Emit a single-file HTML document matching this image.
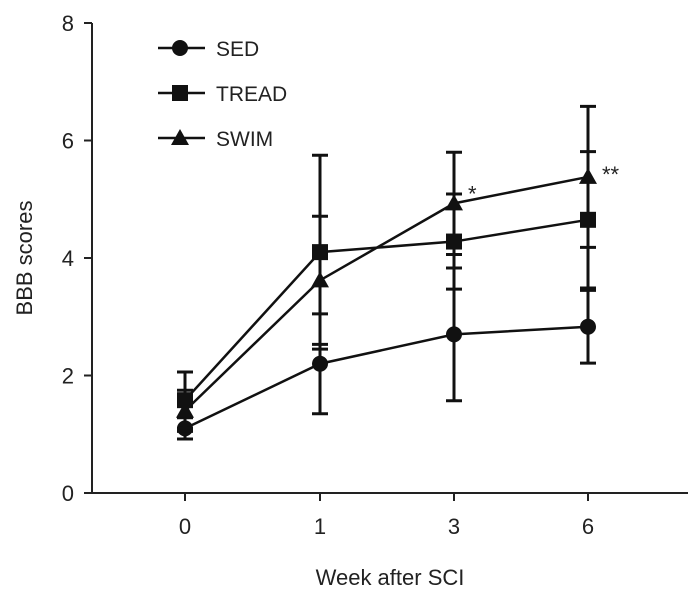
<!DOCTYPE html>
<html><head><meta charset="utf-8"><style>
body{margin:0;background:#fff}
svg text{font-family:"Liberation Sans Narrow","Liberation Sans",sans-serif;fill:#222}
</style></head><body>
<svg id="chart" width="699" height="600" viewBox="0 0 699 600" xmlns="http://www.w3.org/2000/svg"></svg>
<script>
const categories = ["0","1","3","6"];
const yTicks = [0,2,4,6,8];
const sedMean = [1.1, 2.2, 2.7, 2.83];
const sedErr = [0.18, 0.85, 1.13, 0.62];
const treadMean = [1.58, 4.1, 4.28, 4.65];
const treadErr = [0.48, 1.65, 0.81, 1.16];
const swimMean = [1.4, 3.62, 4.93, 5.38];
const swimErr = [0.35, 1.09, 0.87, 1.2];
const seriesNames = ["SED","TREAD","SWIM"];
const sigLabels = ["","","*","**"];

const NS="http://www.w3.org/2000/svg";
const svg=document.getElementById('chart');
const xPos=[185,320,454,588];
function x(i){return xPos[0]+(xPos[3]-xPos[0])*i/(categories.length-1)*0+xPos[i]-xPos[0];}
function y(v){return 493-v*58.75;}
function el(t,a,p){const e=document.createElementNS(NS,t);for(const k in a)e.setAttribute(k,a[k]);(p||svg).appendChild(e);return e;}

// axes
const ax=el('path',{d:'M92,23 V493 H688',fill:'none',stroke:'#222','stroke-width':2});


yTicks.forEach(t=>{
  const l=el('line',{x1:84,x2:92,y1:y(t),y2:y(t),stroke:'#222','stroke-width':2});
  
  
  const tx=el('text',{x:74,y:y(t)+8,'font-size':22,'text-anchor':'end'});tx.textContent=t;
  
  
});
categories.forEach((c,i)=>{
  const l=el('line',{x1:x(i),x2:x(i),y1:493,y2:501,stroke:'#222','stroke-width':2});
  
  
  const tx=el('text',{x:x(i),y:534,'font-size':22,'text-anchor':'middle'});tx.textContent=c;
  
  
});
const xt=el('text',{x:390,y:585,'font-size':22,'text-anchor':'middle'});xt.textContent='Week after SCI';


const yt=el('text',{x:0,y:0,'font-size':22,'text-anchor':'middle',transform:'translate(32,258) rotate(-90)'});yt.textContent='BBB scores';



function marker(shape,cx,cy,g){
  if(shape==='circle')return el('circle',{cx:cx,cy:cy,r:8,fill:'#111'},g);
  if(shape==='square')return el('rect',{x:cx-8,y:cy-8,width:16,height:16,fill:'#111'},g);
  return el('polygon',{points:`${cx},${cy-9} ${cx+9},${cy+7} ${cx-9},${cy+7}`,fill:'#111'},g);
}
const series=[[sedMean,sedErr,'circle'],[treadMean,treadErr,'square'],[swimMean,swimErr,'triangle']];
series.forEach(([m,e,shape],si)=>{
  const g=el('g',{});
  
  
  m.forEach((v,i)=>{
    const eb=el('path',{d:`M${x(i)},${y(v+e[i])}V${y(v-e[i])}M${x(i)-8},${y(v+e[i])}h16M${x(i)-8},${y(v-e[i])}h16`,stroke:'#111','stroke-width':3,fill:'none'},g);
    
    
  });
  const ln=el('polyline',{points:m.map((v,i)=>x(i)+','+y(v)).join(' '),fill:'none',stroke:'#111','stroke-width':2.5},g);
  
  
  m.forEach((v,i)=>{
    const mk=marker(shape,x(i),y(v),g);
    
    
  });
  // legend
  const ly=48+si*45;
  const lg=el('g',{});
  
  
  el('line',{x1:158,x2:205,y1:ly,y2:ly,stroke:'#111','stroke-width':2.5},lg);
  marker(shape,180,ly,lg);
  const lt=el('text',{x:216,y:ly+8,'font-size':21},lg);lt.textContent=seriesNames[si];
});
sigLabels.forEach((s,i)=>{
  if(!s)return;
  const t=el('text',{x:x(i)+14,y:y(swimMean[i])+(i===3?5:-2),'font-size':22},null);t.textContent=s;
  
  
});
</script>
</body></html>
